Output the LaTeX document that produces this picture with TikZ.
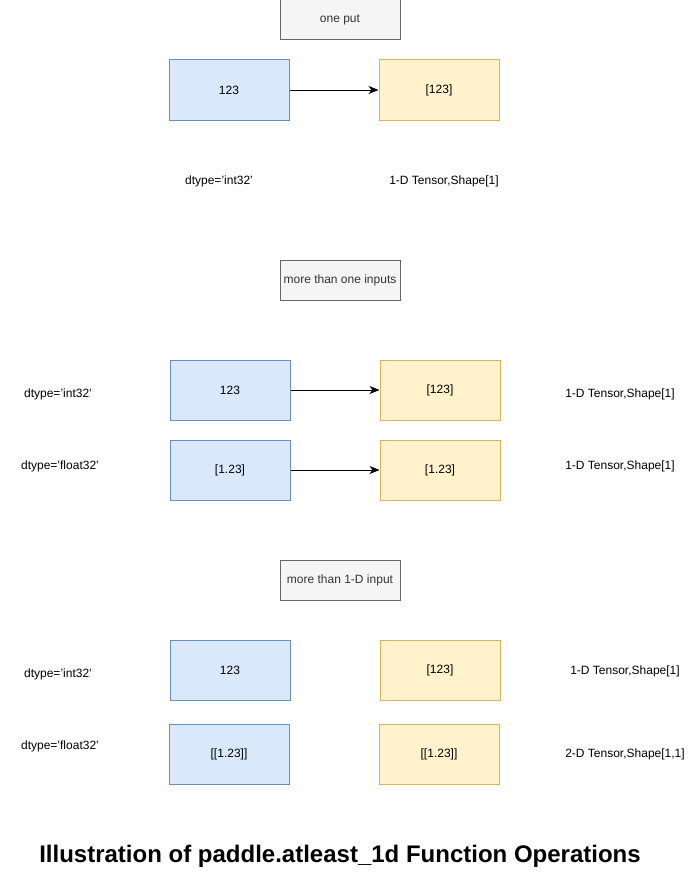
\documentclass[tikz,border=0pt]{standalone}
\usepackage{fontspec}
\setmainfont{Liberation Sans}
\usetikzlibrary{arrows.meta}

\definecolor{inblue}{HTML}{DAE8FC}
\definecolor{inblueline}{HTML}{6C8EBF}
\definecolor{outyellow}{HTML}{FFF2CC}
\definecolor{outyellowline}{HTML}{D6B656}
\definecolor{headgray}{HTML}{F5F5F5}
\definecolor{headgrayline}{HTML}{666666}
\definecolor{headtext}{HTML}{333333}

\tikzset{
    inbox/.style={rectangle, draw=inblueline, fill=inblue, line width=1pt, minimum width=120pt, minimum height=60pt, inner sep=0pt},
    outbox/.style={rectangle, draw=outyellowline, fill=outyellow, line width=1pt, minimum width=120pt, minimum height=60pt, inner sep=0pt},
    headbox/.style={rectangle, draw=headgrayline, fill=headgray, text=headtext, line width=1pt, minimum width=120pt, minimum height=40pt, inner sep=0pt},
    note/.style={inner sep=0pt},
    flow/.style={-{Stealth[length=10pt, width=8pt, inset=3pt]}, line width=1pt}
}

\begin{document}
\begin{tikzpicture}[x=1pt, y=-1pt, font=\fontsize{12}{14}\selectfont]
        \useasboundingbox (0,0) rectangle (690,875);

        % one input
        \node[headbox] (headA) at (340,20) {one put};
        \node[inbox] (inA) at (229,90) {123};
        \node[outbox] (outA) at (439,90) {[123]};
        \draw[flow] (inA) -- (outA);
        \node[note] (dtypeA) at (219,181) {dtype='int32'};
        \node[note] (shapeA) at (444,181) {1-D Tensor,Shape[1]};

        % more than one inputs
        \node[headbox] (headB) at (340,280) {more than one inputs};
        \node[inbox] (inB) at (230,390) {123};
        \node[outbox] (outB) at (440,390) {[123]};
        \draw[flow] (inB) -- (outB);
        \node[note] (dtypeB) at (58,394) {dtype='int32'};
        \node[note] (shapeB) at (620,394) {1-D Tensor,Shape[1]};

        \node[inbox] (inC) at (230,470) {[1.23]};
        \node[outbox] (outC) at (440,470) {[1.23]};
        \draw[flow] (inC) -- (outC);
        \node[note] (dtypeC) at (60,466) {dtype='float32'};
        \node[note] (shapeC) at (620,466) {1-D Tensor,Shape[1]};

        % more than 1-D input
        \node[headbox] (headD) at (340,580) {more than 1-D input};
        \node[inbox] (inD) at (230,670) {123};
        \node[outbox] (outD) at (440,670) {[123]};
        \node[note] (dtypeD) at (58,674) {dtype='int32'};
        \node[note] (shapeD) at (625,671) {1-D Tensor,Shape[1]};

        \node[inbox] (inE) at (229,754) {[[1.23]]};
        \node[outbox] (outE) at (439,754) {[[1.23]]};
        \node[note] (dtypeE) at (60,746) {dtype='float32'};
        \node[note] (shapeE) at (625,754) {2-D Tensor,Shape[1,1]};

        \node[note, font=\fontsize{24}{28}\selectfont\bfseries] (title) at (340,856) {Illustration of paddle.atleast\_1d Function Operations};
    \end{tikzpicture}
\end{document}
